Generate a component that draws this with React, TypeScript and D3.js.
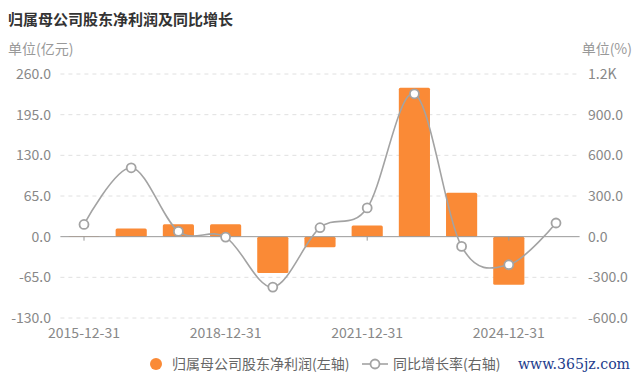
import React from "react";
import * as d3 from "d3";

const years = ["2015", "2016", "2017", "2018", "2019", "2020", "2021", "2022", "2023", "2024", "2025"];
const xLabels = ["2015-12-31", "2018-12-31", "2021-12-31", "2024-12-31"];
const profit = [0.6, 13, 20, 20, -58, -17, 18, 238, 70, -77, null];
const growth = [90, 508, 39, -3, -372, 66, 212, 1054, -72, -207, 101];
const leftTicks = [-130, -65, 0, 65, 130, 195, 260];
const rightTicks = [-600, -300, 0, 300, 600, 900, 1200];

const font = "'Noto Sans CJK SC', 'Noto Sans', sans-serif";
const orange = "#fa8a36";
const gray = "#a3a3a3";

const App = () => {
  const width = 640;
  const height = 384;
  const margin = { top: 74, right: 60.4, bottom: 66, left: 60.4 };

  const x = d3.scaleBand().domain(years).range([margin.left, width - margin.right]).paddingInner(0.34).paddingOuter(0.17);
  const yL = d3.scaleLinear().domain([-130, 260]).range([height - margin.bottom, margin.top]);
  const yR = d3.scaleLinear().domain([-600, 1200]).range([height - margin.bottom, margin.top]);
  const cx = (y: string) => (x(y) as number) + x.bandwidth() / 2;

  const line = d3
    .line<number>()
    .x((_, i) => cx(years[i]))
    .y((d) => yR(d))
    .curve(d3.curveCardinal.tension(0));

  const fmtR = (v: number) => (v === 1200 ? "1.2K" : v.toFixed(1));

  return (
    <div style={{ position: "absolute", left: 0, top: 0 }}>
      <svg width={width} height={height} style={{ fontFamily: font, display: "block" }}>
        <rect width={width} height={height} fill="#fff" />
        <text x={8} y={25} fontSize={15} fontWeight="bold" fill="#333">归属母公司股东净利润及同比增长</text>
        <text x={8} y={54} fontSize={14} fill="#999">单位(亿元)</text>
        <text x={632} y={54} fontSize={14} fill="#999" textAnchor="end">单位(%)</text>

        {leftTicks.map((t) => (
          <g key={t}>
            {t !== 0 && (
              <line x1={margin.left} x2={width - margin.right} y1={yL(t)} y2={yL(t)} stroke="#e0e0e0" strokeDasharray="4 4" />
            )}
            <text x={51} y={yL(t)} dy="0.35em" fontSize={14} fill="#888" textAnchor="end">{t.toFixed(1)}</text>
          </g>
        ))}
        {rightTicks.map((t) => (
          <text key={t} x={588} y={yR(t)} dy="0.35em" fontSize={14} fill="#888">{fmtR(t)}</text>
        ))}

        {profit.map((d, i) =>
          d === null ? null : (
            <rect
              key={i}
              x={x(years[i])}
              y={yL(Math.max(0, d))}
              width={x.bandwidth()}
              height={Math.abs(yL(d) - yL(0))}
              fill={orange}
              rx={1.5}
            />
          )
        )}

        <line x1={margin.left} x2={width - margin.right} y1={yL(0)} y2={yL(0)} stroke="#999" />
        {xLabels.map((l) => {
          const px = cx(l.slice(0, 4));
          return (
            <g key={l}>
              <line x1={px} x2={px} y1={yL(0)} y2={yL(0) + 4} stroke="#999" />
              <text x={px} y={338} fontSize={14} fill="#888" textAnchor="middle">{l}</text>
            </g>
          );
        })}

        <path d={line(growth) as string} fill="none" stroke={gray} strokeWidth={1.6} />
        {growth.map((d, i) => (
          <circle key={i} cx={cx(years[i])} cy={yR(d)} r={4.5} fill="#fff" stroke={gray} strokeWidth={1.8} />
        ))}

        <g fontSize={14} fill="#666">
          <circle cx={156} cy={364} r={6} fill={orange} />
          <text x={172} y={369}>归属母公司股东净利润(左轴)</text>
          <line x1={362} x2={388} y1={364} y2={364} stroke={gray} strokeWidth={1.6} />
          <circle cx={375} cy={364} r={4.5} fill="#fff" stroke={gray} strokeWidth={1.8} />
          <text x={393} y={369}>同比增长率(右轴)</text>
        </g>
        <text x={518} y={369} fontSize={15} fill="#1d3c8c" fontFamily="'DejaVu Serif', serif" textLength={112} lengthAdjust="spacingAndGlyphs">www.365jz.com</text>
      </svg>
    </div>
  );
};

export default App;
